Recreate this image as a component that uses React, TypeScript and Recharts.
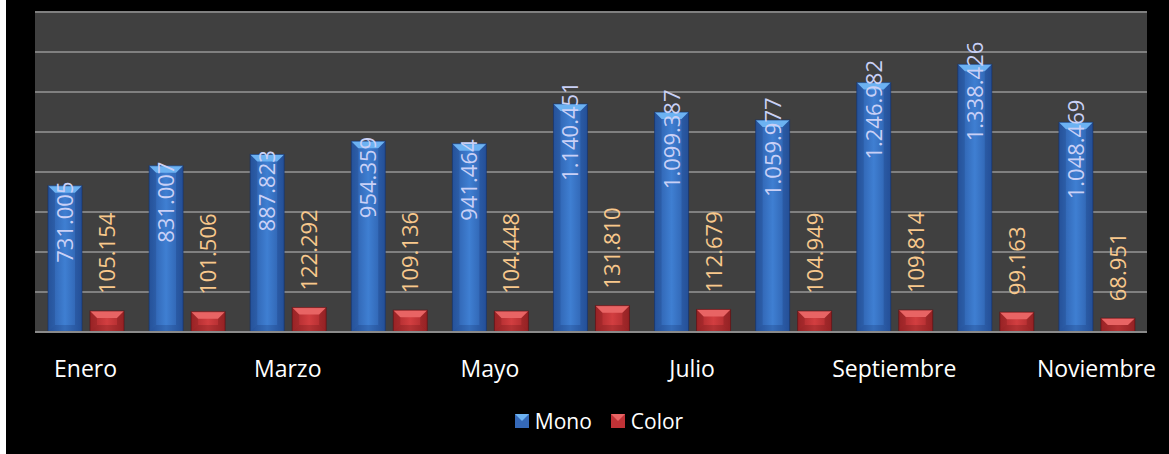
import React from "react";
import { BarChart, Bar, XAxis, YAxis, CartesianGrid, Legend, LabelList } from "recharts";

const months = [
  "Enero",
  "Febrero",
  "Marzo",
  "Abril",
  "Mayo",
  "Junio",
  "Julio",
  "Agosto",
  "Septiembre",
  "Octubre",
  "Noviembre",
];
const mono = [731005, 831007, 887823, 954359, 941464, 1140451, 1099387, 1059977, 1246982, 1338426, 1048469];
const color = [105154, 101506, 122292, 109136, 104448, 131810, 112679, 104949, 109814, 99163, 68951];
const yTicks = [0, 200000, 400000, 600000, 800000, 1000000, 1200000, 1400000, 1600000];

const data = months.map((m, i) => ({ month: m, Mono: mono[i], Color: color[i] }));

const FONT = "'Open Sans', 'DejaVu Sans', sans-serif";

// 731005 -> "731.005"
const fmt = (v: number) => String(v).replace(/\B(?=(\d{3})+(?!\d))/g, ".");

const makeBar = (grad: string, light: string, dark: string) => (props: any) => {
  const { x, y, width: w, height: h } = props;
  if (!h || h <= 0) return null;
  const b = Math.min(7, h / 2, w / 2);
  return (
    <g>
      <rect x={x} y={y} width={w} height={h} fill={`url(#${grad})`} />
      <polygon points={`${x},${y} ${x + w},${y} ${x + w - b},${y + b} ${x + b},${y + b}`} fill={light} />
      <polygon points={`${x},${y} ${x + b},${y + b} ${x + b},${y + h - b} ${x},${y + h}`} fill={dark} opacity={0.2} />
      <polygon points={`${x + w},${y} ${x + w - b},${y + b} ${x + w - b},${y + h - b} ${x + w},${y + h}`} fill={dark} opacity={0.25} />
      <polygon points={`${x},${y + h} ${x + b},${y + h - b} ${x + w - b},${y + h - b} ${x + w},${y + h}`} fill={dark} opacity={0.25} />
      <rect x={x} y={y} width={w} height={h} fill="none" stroke={dark} strokeOpacity={0.6} strokeWidth={1} />
    </g>
  );
};

const MonoBar = makeBar("gMono", "#6cb2f2", "#12306a");
const ColorBar = makeBar("gColor", "#e86464", "#5a0e10");

const MonoLabel = (props: any) => {
  const { x, y, width, value } = props;
  const cx = x + width / 2 + 8;
  const cy = y + 77;
  return (
    <text x={cx} y={cy} transform={`rotate(-90 ${cx} ${cy})`} textAnchor="start" fill="#c9d0f6" fontSize={22} fontFamily={FONT}>
      {fmt(value)}
    </text>
  );
};

const ColorLabel = (props: any) => {
  const { x, y, width, value } = props;
  const cx = x + width / 2 + 8;
  const cy = y - 17;
  return (
    <text x={cx} y={cy} transform={`rotate(-90 ${cx} ${cy})`} textAnchor="start" fill="#f8c88c" fontSize={22} fontFamily={FONT}>
      {fmt(value)}
    </text>
  );
};

const MonthTick = (props: any) => {
  const { x, y, payload } = props;
  return (
    <text x={x} y={y} dy={43} textAnchor="middle" fill="#ffffff" fontSize={23} fontFamily={FONT}>
      {payload.value}
    </text>
  );
};

const LegendIcon = ({ base, light }: { base: string; light: string }) => (
  <svg width={14} height={14} style={{ marginRight: 6 }}>
    <rect x={0} y={0} width={14} height={14} fill={base} />
    <polygon points="0,0 14,0 7,7" fill={light} />
  </svg>
);

const LegendContent = () => (
  <div
    style={{
      display: "flex",
      justifyContent: "center",
      alignItems: "center",
      height: 34,
      paddingLeft: 23,
      fontFamily: FONT,
      fontSize: 21,
      color: "#ffffff",
    }}
  >
    <LegendIcon base="#3569b8" light="#6cb2f2" />
    <span style={{ marginRight: 19 }}>Mono</span>
    <LegendIcon base="#c03236" light="#e86464" />
    <span>Color</span>
  </div>
);

export default function App() {
  return (
    <div style={{ position: "absolute", left: 0, top: 0, width: 1169, height: 454, background: "#ffffff" }}>
      <div style={{ position: "absolute", left: 6, top: 0, width: 1163, height: 454, background: "#000000" }}>
        <BarChart
          width={1163}
          height={454}
          data={data}
          margin={{ top: 12, right: 22, left: 29, bottom: 16 }}
          barSize={34}
          barGap={8}
        >
          <defs>
            <linearGradient id="gMono" x1="0" y1="0" x2="1" y2="0">
              <stop offset="0%" stopColor="#2a5aa6" />
              <stop offset="50%" stopColor="#3f7fd2" />
              <stop offset="100%" stopColor="#2a5aa6" />
            </linearGradient>
            <linearGradient id="gColor" x1="0" y1="0" x2="1" y2="0">
              <stop offset="0%" stopColor="#a8282b" />
              <stop offset="50%" stopColor="#d23e40" />
              <stop offset="100%" stopColor="#a8282b" />
            </linearGradient>
          </defs>
          <CartesianGrid vertical={false} fill="#404040" stroke="#808080" strokeWidth={2} fillOpacity={1} />
          <XAxis
            dataKey="month"
            interval={1}
            height={72}
            tickLine={false}
            tickSize={0}
            axisLine={{ stroke: "#8a8a8a", strokeWidth: 2 }}
            tick={<MonthTick />}
          />
          <YAxis hide domain={[0, 1600000]} ticks={yTicks} />
          <Legend verticalAlign="bottom" content={<LegendContent />} wrapperStyle={{ left: 0, width: 1163 }} />
          <Bar dataKey="Mono" shape={MonoBar} isAnimationActive={false}>
            <LabelList dataKey="Mono" content={<MonoLabel />} />
          </Bar>
          <Bar dataKey="Color" shape={ColorBar} isAnimationActive={false}>
            <LabelList dataKey="Color" content={<ColorLabel />} />
          </Bar>
        </BarChart>
      </div>
    </div>
  );
}
